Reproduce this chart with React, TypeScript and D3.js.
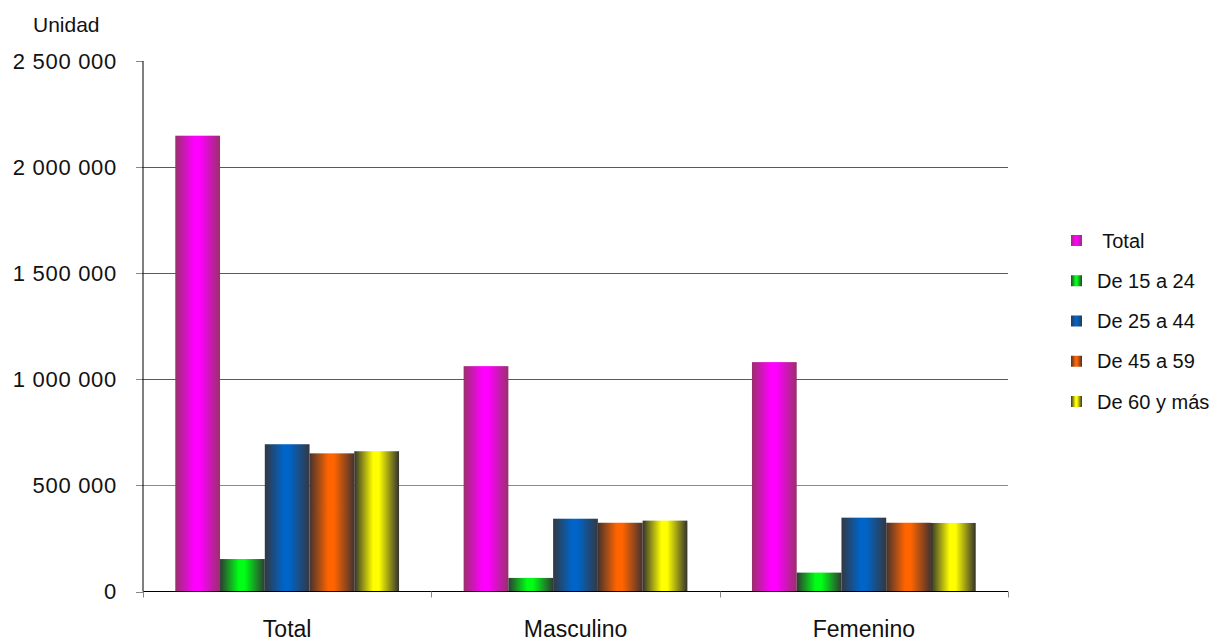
import React from "react";
import * as d3 from "d3";

const categories = ["Total", "Masculino", "Femenino"];
const seriesNames = [" Total", "De 15 a 24", "De 25 a 44", "De 45 a 59", "De 60 y más"];
const serTotal = [2148000, 1062000, 1081000];
const ser15a24 = [153000, 64000, 89000];
const ser25a44 = [694000, 343000, 348000];
const ser45a59 = [651000, 324000, 324000];
const ser60mas = [661000, 334000, 323000];
const yTicks = [0, 500000, 1000000, 1500000, 2000000, 2500000];

const seriesValues = [serTotal, ser15a24, ser25a44, ser45a59, ser60mas];
const barColors = [
  { edge: "#9a2f6c", mid: "#ff00ff" },
  { edge: "#2e3b33", mid: "#00ff14" },
  { edge: "#333842", mid: "#0064c8" },
  { edge: "#45322f", mid: "#ff6400" },
  { edge: "#33332e", mid: "#ffff00" },
];

const W = 1212;
const H = 641;
const left = 143;
const right = 1008;
const top = 61;
const bottom = 591.5;

const fmt = (v: number) => d3.format(",")(v).replace(/,/g, " ");

export default function App() {
  const y = d3.scaleLinear().domain([0, 2500000]).range([bottom, top]);
  const x0 = d3.scaleBand<string>().domain(categories).range([left, right]).padding(0);
  const gap = x0.bandwidth() * 0.112;
  const x1 = d3
    .scaleBand<string>()
    .domain(seriesNames)
    .range([gap, x0.bandwidth() - gap])
    .padding(0);

  return (
    <svg width={W} height={H} style={{ position: "absolute", left: 0, top: 0, background: "#fff" }}
      fontFamily="'Liberation Sans', Arial, sans-serif">
      <defs>
        {barColors.map((c, i) => (
          <linearGradient key={i} id={`g${i}`} x1="0" x2="1" y1="0" y2="0">
            <stop offset="0" stopColor={c.edge} />
            <stop offset="0.42" stopColor={c.mid} />
            <stop offset="0.55" stopColor={c.mid} />
            <stop offset="1" stopColor={c.edge} />
          </linearGradient>
        ))}
      </defs>
      <rect x={0} y={0} width={W} height={H} fill="#fff" />
      <text x={33} y={31.5} fontSize={21} fill="#111">Unidad</text>
      {yTicks.filter((t) => t > 0 && t < 2500000).map((t) => (
        <line key={t} x1={left} x2={right} y1={Math.round(y(t)) + 0.5} y2={Math.round(y(t)) + 0.5}
          stroke={t === 500000 ? "#8a8a8a" : "#5a5a5a"} strokeWidth={1} />
      ))}
      {yTicks.map((t) => (
        <g key={t}>
          <line x1={left - 7} x2={left} y1={Math.round(y(t)) + 0.5} y2={Math.round(y(t)) + 0.5} stroke="#888" />
          <text x={117} y={y(t) + 7.5} fontSize={22} letterSpacing={0.7} textAnchor="end" fill="#111">{fmt(t)}</text>
        </g>
      ))}
      {categories.map((c, ci) => (
        <g key={c} transform={`translate(${x0(c)},0)`}>
          {seriesNames.map((s, si) => {
            const v = seriesValues[si][ci];
            return (
              <rect key={s} x={x1(s)} y={y(v)} width={x1.bandwidth()} height={bottom - y(v)} fill={`url(#g${si})`} />
            );
          })}
        </g>
      ))}
      <line x1={left} x2={left} y1={top} y2={bottom} stroke="#000" />
      <line x1={left} x2={right} y1={bottom} y2={bottom} stroke="#000" />
      {[...categories.map((c) => x0(c) as number), right].map((xv, i) => (
        <line key={i} x1={Math.round(xv) + 0.5} x2={Math.round(xv) + 0.5} y1={bottom} y2={bottom + 6} stroke="#888" />
      ))}
      {categories.map((c) => (
        <text key={c} x={(x0(c) as number) + x0.bandwidth() / 2} y={636.5} fontSize={23} textAnchor="middle" fill="#111">{c}</text>
      ))}
      {seriesNames.map((s, i) => {
        const ly = 240.5 + i * 40.25;
        return (
          <g key={s}>
            <rect x={1071} y={ly - 5.5} width={11} height={11} fill={`url(#g${i})`} />
            <text x={1097} y={ly + 7} fontSize={20} fill="#111" style={{ whiteSpace: "pre" }}>{s}</text>
          </g>
        );
      })}
    </svg>
  );
}
